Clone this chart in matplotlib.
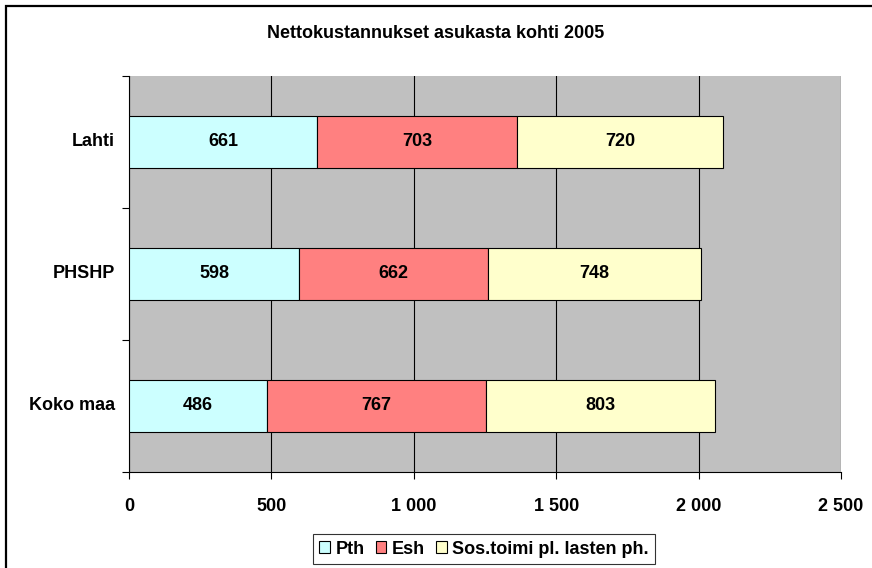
import numpy as np
import matplotlib.pyplot as plt
from matplotlib.patches import Rectangle

plt.rcParams['font.family'] = ['Liberation Sans', 'DejaVu Sans']
plt.rcParams['font.weight'] = 'bold'

# data
areas = ['Lahti', 'PHSHP', 'Koko maa']
series_names = ['Pth', 'Esh', 'Sos.toimi pl. lasten ph.']
pth = [661, 598, 486]
esh = [703, 662, 767]
sos = [720, 748, 803]
colors = ['#CCFFFF', '#FF8080', '#FFFFCC']
xticks = [0, 500, 1000, 1500, 2000, 2500]
xtick_labels = ['0', '500', '1 000', '1 500', '2 000', '2 500']

W, H = 872, 568
FS = 13
fig = plt.figure(figsize=(W / 100, H / 100), dpi=100)
ax = fig.add_axes([129 / W, (H - 472) / H, (841 - 129) / W, 396 / H])
ax.set_facecolor('#C0C0C0')

# outer frame of the chart (right and bottom edges fall outside the image)
fig.patches.append(Rectangle((6 / W, -10 / H), (W + 20) / W, (H + 4) / H,
                             transform=fig.transFigure, fill=False,
                             edgecolor='black', linewidth=1.6))

ypos = np.arange(len(areas))[::-1]  # Lahti at top
left = np.zeros(len(areas))
for vals, name, col in zip([pth, esh, sos], series_names, colors):
    vals = np.array(vals)
    ax.barh(ypos, vals, left=left, height=0.4, color=col,
            edgecolor='black', linewidth=0.8, label=name, zorder=3)
    for y, l, v in zip(ypos, left, vals):
        ax.text(l + v / 2, y, str(v), ha='center', va='center',
                fontsize=FS, fontweight='bold', zorder=4)
    left = left + vals

ax.set_xlim(0, 2500)
ax.set_ylim(-0.5, len(areas) - 0.5)
ax.set_xticks(xticks)
ax.set_xticklabels(xtick_labels, fontsize=FS, fontweight='bold')
ax.tick_params(axis='x', length=5, width=0.8, pad=14)
ax.grid(axis='x', color='black', linewidth=0.8, zorder=1)

# category labels between boundary ticks, like Excel
ax.set_yticks(np.arange(-0.5, len(areas), 1.0))
ax.set_yticklabels([])
ax.tick_params(axis='y', length=5, width=0.8)
for y, name in zip(ypos, areas):
    ax.text(-0.02, y, name, transform=ax.get_yaxis_transform(),
            ha='right', va='center', fontsize=FS, fontweight='bold')

for side in ['top', 'right']:
    ax.spines[side].set_visible(False)
for side in ['left', 'bottom']:
    ax.spines[side].set_linewidth(0.8)

fig.text(0.5, (H - 33) / H, 'Nettokustannukset asukasta kohti 2005',
         ha='center', va='center', fontsize=FS, fontweight='bold')

leg = fig.legend(loc='center', bbox_to_anchor=(484 / W, (H - 549) / H),
                 ncol=3, frameon=True, fancybox=False,
                 edgecolor='black', handlelength=0.6, handleheight=0.6,
                 handletextpad=0.3, columnspacing=0.6, borderpad=0.35,
                 prop={'weight': 'bold', 'size': FS})
leg.get_frame().set_linewidth(0.8)

fig.savefig('out.png', dpi=100)
